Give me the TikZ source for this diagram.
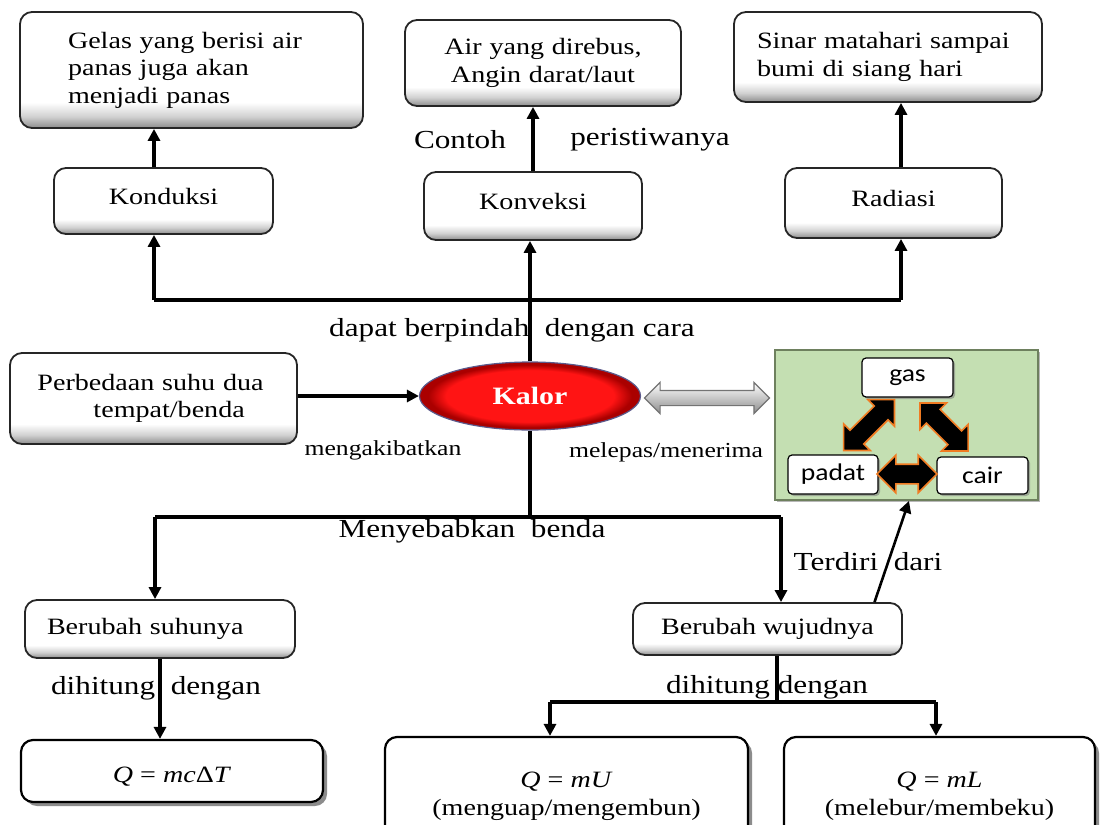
\documentclass[tikz,border=0pt]{standalone}
\usepackage{fontspec}
\setmainfont{Liberation Serif}[FakeStretch=1.2]
\newfontfamily\sansf{Carlito}[FakeStretch=1.15]
\usetikzlibrary{shapes.geometric,shapes.arrows,arrows.meta,shadows}
\definecolor{greenbg}{HTML}{C4DFB2}
\definecolor{greenedge}{HTML}{6E805E}
\definecolor{arrorange}{HTML}{F07B22}
\definecolor{kred}{RGB}{255,20,20}
\definecolor{kdark}{RGB}{170,0,0}
\definecolor{kedge}{RGB}{90,90,140}
\pgfdeclareverticalshading{boxshade}{100bp}{color(0bp)=(black!45); color(25bp)=(black!45); color(30bp)=(black!18); color(36bp)=(white); color(100bp)=(white)}
\pgfdeclareradialshading{kalorshade}{\pgfpoint{0bp}{0bp}}{color(0bp)=(kred); color(19bp)=(kred); color(23bp)=(kdark); color(25bp)=(kdark); color(50bp)=(kdark)}
\newcommand\bxfont{\fontsize{23.4}{27.5}\selectfont}
\newcommand\lbfont{\fontsize{26}{30}\selectfont}
\newcommand\smfont{\fontsize{21.4}{24}\selectfont}
\newcommand\kfont{\fontsize{25}{27}\selectfont\bfseries}
\newcommand\sfont{\sansf\fontsize{24}{26}\selectfont}
\begin{document}
\begin{tikzpicture}[x=1pt,y=-1pt,
 box/.style={draw=black!85, line width=1.8pt, rounded corners=12pt, shading=boxshade, font=\bxfont, inner sep=0pt},
 qbox/.style={draw=black, line width=2.2pt, rounded corners=12pt, fill=white, font=\bxfont, align=center, inner sep=0pt, drop shadow={shadow xshift=4pt, shadow yshift=-4pt, fill=black!45, opacity=1}},
 lbl/.style={font=\lbfont, inner sep=0pt},
 sml/.style={font=\smfont, inner sep=0pt},
 conn/.style={line width=3.4pt},
 arr/.style={conn, -{Triangle[length=12pt,width=12pt]}},
 sbox/.style={draw=black, line width=1.2pt, rounded corners=4pt, fill=white, font=\sfont, inner sep=0pt, drop shadow={shadow xshift=2pt, shadow yshift=-2pt, fill=black!50, opacity=.6}},
 blk/.style={double arrow, fill=black, draw=arrorange, line width=1.6pt, inner sep=0pt, text height=9pt, text depth=9pt, double arrow head extend=9pt},
 kalorstyle/.style={ellipse, minimum width=221pt, minimum height=68pt, shading=kalorshade, draw=kedge, line width=1.2pt, text=white, font=\kfont, inner sep=0pt},
 hollow/.style={double arrow, minimum height=125pt, text height=7pt, text depth=7pt, double arrow head extend=8pt, draw=black!55, line width=1.2pt, top color=white, bottom color=black!45, inner sep=0pt}
]
\clip (0,0) rectangle (1101,825);
\fill[white] (0,0) rectangle (1101,825);

% top row
\node[box, minimum width=343pt, minimum height=116pt, text width=247pt, align=left] (gelas) at (191.5,70) {Gelas yang berisi air\\panas juga akan\\menjadi panas};
\node[box, minimum width=219pt, minimum height=66pt, text depth=10pt] (konduksi) at (163.5,201) {Konduksi};
\node[box, minimum width=276pt, minimum height=86pt, text width=250pt, align=center] (air) at (543,63) {Air yang direbus,\\Angin darat/laut};
\node[box, minimum width=218pt, minimum height=68pt, text depth=10pt] (konveksi) at (533,206) {Konveksi};
\node[box, minimum width=308pt, minimum height=90pt, text width=262pt, align=left] (sinar) at (888,57) {Sinar matahari sampai\\bumi di siang hari};
\node[box, minimum width=217pt, minimum height=70pt, text depth=10pt] (radiasi) at (893.5,203) {Radiasi};

% middle
\node[box, minimum width=287pt, minimum height=91pt, text width=232pt, align=left] (beda) at (153.5,398.5) {Perbedaan suhu dua\\\hspace*{56pt}tempat/benda};
\node[kalorstyle] (kalor) at (530,396) {Kalor};
\node[hollow] (tukar) at (707,398) {};

\node[draw=greenedge, fill=greenbg, line width=1.8pt, minimum width=263pt, minimum height=150pt, inner sep=0pt, drop shadow={shadow xshift=2pt, shadow yshift=-2pt, fill=black!35, opacity=.8}] (fase) at (906.5,425) {};
\node[sbox, minimum width=91pt, minimum height=39pt] (gas) at (907.5,377.5) {gas};
\node[sbox, minimum width=90pt, minimum height=39pt] (padat) at (833,474.5) {padat};
\node[sbox, minimum width=91pt, minimum height=37pt] (cair) at (982.5,475.5) {cair};
\node[blk, minimum height=72pt, rotate=45] (gp) at (869,425) {};
\node[blk, minimum height=68pt, rotate=-45] (gc) at (944,427) {};
\node[blk, minimum height=60pt] (pc) at (907,474) {};

% bottom
\node[box, minimum width=270pt, minimum height=58pt, text width=226pt, align=left] (suhu) at (160,629) {Berubah suhunya};
\node[box, minimum width=269pt, minimum height=52pt] (wujud) at (767.5,629) {Berubah wujudnya};
\node[qbox, minimum width=302pt, minimum height=62pt] (mcdt) at (172,771) {\rule{0pt}{26pt}\textit{Q} = \textit{mc}Δ\textit{T}};
\node[qbox, minimum width=363pt, minimum height=108pt] (mu) at (566.5,791) {\rule{0pt}{26pt}\textit{Q} = \textit{mU}\\(menguap/mengembun)};
\node[qbox, minimum width=311pt, minimum height=108pt] (ml) at (939.5,791) {\rule{0pt}{26pt}\textit{Q} = \textit{mL}\\(melebur/membeku)};

% labels
\node[lbl] (contoh) at (460,140) {Contoh};
\node[lbl] (peris) at (650,140) {peristiwanya};
\node[lbl] (cara) at (512,330) {dapat berpindah\ \ dengan cara};
\node[sml] (akibat) at (383,450) {mengakibatkan};
\node[sml] (lepas) at (666,452) {melepas/menerima};
\node[lbl] (sebab) at (472,531) {Menyebabkan\ \ benda};
\node[lbl] (terdiri) at (868,562) {Terdiri\ \ dari};
\node[lbl] (hitung1) at (156,688) {dihitung\ \ dengan};
\node[lbl] (hitung2) at (767,687) {dihitung\ dengan};

% connectors
\coordinate (jl) at (154,300);
\coordinate (jr) at (901,300);
\coordinate (hl) at (155,517);
\coordinate (hr) at (781,517);
\coordinate (wb) at (777,702);
\coordinate (bl) at (550,702);
\coordinate (br) at (936,702);

\draw[arr] (jl |- konduksi.north) -- (jl |- gelas.south);
\draw[arr] (konveksi.north) -- (konveksi.north |- air.south);
\draw[arr] (jr |- radiasi.north) -- (jr |- sinar.south);
\draw[conn] (jl) -- (jr);
\draw[arr] (jl) -- (jl |- konduksi.south);
\draw[arr] (jr) -- (jr |- radiasi.south);
\draw[arr] (kalor.north) -- (kalor.north |- konveksi.south);
\draw[arr] (beda.east |- kalor.west) -- (kalor.west);
\draw[conn] (kalor.south) -- (kalor.south |- hl);
\draw[conn] (hl) -- (hr);
\draw[arr] (hl) -- (hl |- suhu.north);
\draw[arr] (hr) -- (hr |- wujud.north);
\draw[arr, line width=2.6pt] ([xshift=107pt]wujud.north) -- ([xshift=2.5pt]fase.south);
\draw[arr] (suhu.south) -- (suhu.south |- mcdt.north);
\draw[conn] (wb |- wujud.south) -- (wb);
\draw[conn] (bl) -- (br);
\draw[arr] (bl) -- (bl |- mu.north);
\draw[arr] (br) -- (br |- ml.north);
\end{tikzpicture}
\end{document}
